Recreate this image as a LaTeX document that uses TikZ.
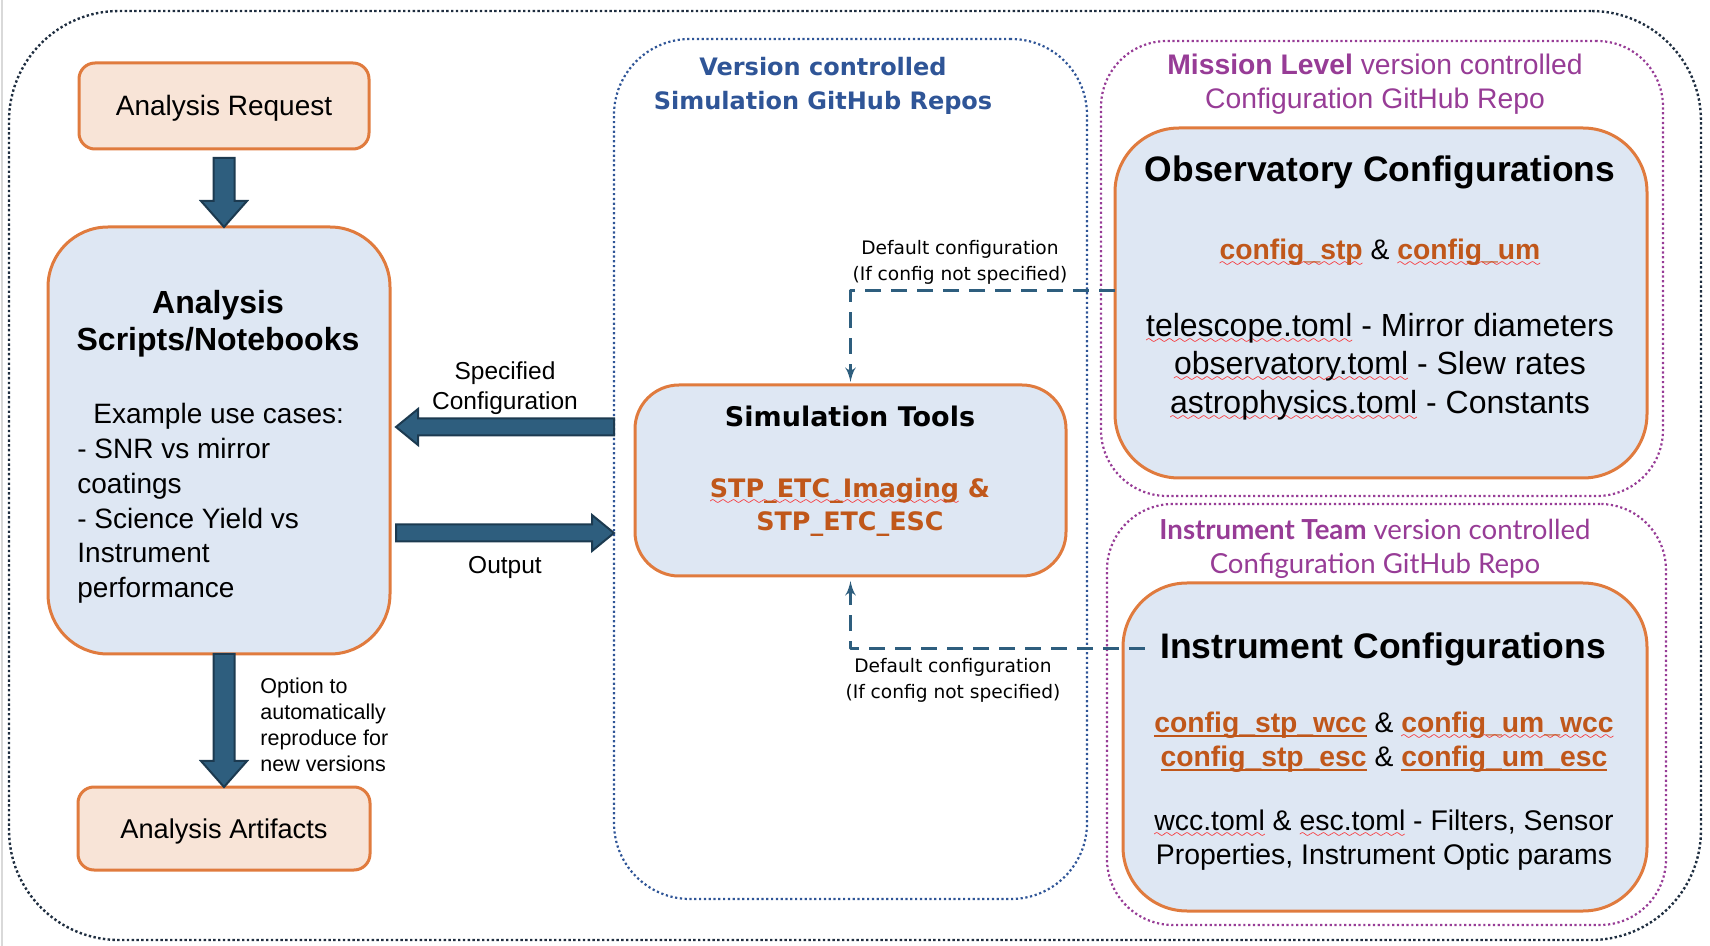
\documentclass[tikz,border=0pt]{standalone}
\usepackage{fontspec}
\setmainfont{Liberation Sans}
\newfontfamily\widefont{DejaVu Sans}
\newfontfamily\teamfont{Lato}
\usetikzlibrary{arrows,calc,shapes}

\definecolor{boxorange}{HTML}{E07B3E}
\definecolor{peach}{HTML}{F8E4D7}
\definecolor{paleblue}{HTML}{DEE7F3}
\definecolor{arrowfill}{HTML}{2E5E7E}
\definecolor{arrowline}{HTML}{1C3A50}
\definecolor{dashblue}{HTML}{2E5E7E}
\definecolor{linkorange}{HTML}{C0571A}
\definecolor{repopurple}{HTML}{973C96}
\definecolor{repoblue}{HTML}{2F5597}
\definecolor{framenavy}{HTML}{1E2D3F}

\font\sixly=lasy6
\newcommand{\redwave}[1]{\setbox0\hbox{#1}\rlap{\textcolor{red}{\lower3.5pt\hbox to\wd0{\xleaders\hbox{\sixly\char58}\hfil}}}\box0\relax}
\newcommand{\solidline}[1]{\setbox0\hbox{#1}\rlap{\vrule width\wd0 height -1.6pt depth 2.6pt}\box0\relax}
\newcommand{\fsize}[2]{\fontsize{#1}{#2}\selectfont}

\tikzset{
  box/.style={draw=boxorange, line width=1.5pt, inner sep=0pt, outer sep=0pt},
  peachbox/.style={box, fill=peach, rounded corners=8pt, text height=12pt, text depth=2pt},
  bluebox/.style={box, fill=paleblue},
  repo/.style={inner sep=0pt, outer sep=0pt, line width=1.1pt, dash pattern=on 1.1pt off 1.3pt},
  blockarrow/.style={fill=arrowfill, draw=arrowline, line width=1pt, line join=miter},
  defline/.style={draw=dashblue, line width=1.5pt, dash pattern=on 8pt off 5pt},
  txt/.style={inner sep=0pt, align=center},
}

\begin{document}
\begin{tikzpicture}[x=0.5pt,y=-0.5pt,>=latex',line join=bevel]
\useasboundingbox (0,0) rectangle (1710,946);
\draw[black!15, line width=1pt] (2,0) -- (2,946);
%%
  % Node: frame
  \node[repo, draw=framenavy, line width=1.2pt, dash pattern=on 1.2pt off 1.2pt, rounded corners=55pt,
        minimum width=846pt, minimum height=464.5pt] (frame) at (855,475.5) {};
  % Cluster: simulation repos
  \node[repo, draw=repoblue, rounded corners=38pt, minimum width=236.5pt, minimum height=430pt] (simrepo) at (850.5,469) {};
  \node[txt, text=repoblue, font={\widefont\bfseries\fsize{12pt}{17pt}}] (simrepotitle) at (823,86)
    {Version controlled\\Simulation GitHub Repos};
  % Cluster: mission level repo
  \node[repo, draw=repopurple, rounded corners=33pt, minimum width=281pt, minimum height=227.5pt] (missionrepo) at (1382,268.5) {};
  \node[txt, text=repopurple, font=\fsize{14.15pt}{17pt}] (missiontitle) at (1375,84.5)
    {\textbf{Mission Level} version controlled\\Configuration GitHub Repo};
  % Cluster: instrument team repo
  \node[repo, draw=repopurple, rounded corners=33pt, minimum width=279.5pt, minimum height=210.5pt] (instrepo) at (1386.5,714.5) {};
  \node[txt, text=repopurple, font={\teamfont\fsize{13.8pt}{17pt}}] (teamtitle) at (1375,548.5)
    {\textbf{Instrument Team} version controlled\\Configuration GitHub Repo};

  % Node: request
  \node[peachbox, minimum width=145pt, minimum height=43pt, font=\fsize{14pt}{17pt}] (request) at (224,106)
    {Analysis Request};
  % Node: scripts
  \node[bluebox, rounded corners=30pt, minimum width=171pt, minimum height=213.5pt] (scripts) at (219,440.5) {};
  \node[txt, font={\bfseries\fsize{16pt}{18.5pt}}] (scriptstitle) at (218,324)
    {Analysis\\Scripts/Notebooks};
  \node[txt, align=left, anchor=west, font=\fsize{14pt}{17.4pt}] (usecases) at (77,503.5)
    {\hspace*{8pt}Example use cases:\\- SNR vs mirror\\coatings\\- Science Yield vs\\Instrument\\performance};
  % Node: artifacts
  \node[peachbox, minimum width=146pt, minimum height=41.5pt, font=\fsize{13.6pt}{17pt}] (artifacts) at (224,828.5)
    {Analysis Artifacts};

  % Node: simtools
  \node[bluebox, rounded corners=22pt, minimum width=215.5pt, minimum height=95.5pt] (simtools) at (850.5,480.5) {};
  \node[txt, font={\widefont\bfseries\fsize{13.5pt}{16pt}}] (simtitle) at (850,416) {Simulation Tools};
  \node[txt, text=linkorange, font={\widefont\bfseries\fsize{12.7pt}{16.5pt}}] (simlinks) at (850,507.5)
    {\redwave{STP\_ETC\_Imaging} \&\\STP\_ETC\_ESC};

  % Node: obscfg
  \node[bluebox, rounded corners=32pt, minimum width=266pt, minimum height=175pt] (obscfg) at (1381,303) {};
  \node[txt, font={\bfseries\fsize{17.7pt}{20pt}}] (obstitle) at (1380,172) {Observatory Configurations};
  \node[txt, font=\fsize{14.15pt}{17pt}] (obslinks) at (1380,253)
    {\textcolor{linkorange}{\textbf{\redwave{config\_stp}}} \& \textcolor{linkorange}{\textbf{\redwave{config\_um}}}};
  \node[txt, font=\fsize{16pt}{19.25pt}] (obsfiles) at (1380,366.5)
    {\redwave{telescope.toml} - Mirror diameters\\\redwave{observatory.toml} - Slew rates\\\redwave{astrophysics.toml} - Constants};

  % Node: instcfg
  \node[bluebox, rounded corners=32pt, minimum width=262pt, minimum height=164pt] (instcfg) at (1385,747) {};
  \node[txt, inner xsep=7.5pt, font={\bfseries\fsize{17.75pt}{20pt}}] (insttitle) at (1383,649) {Instrument Configurations};
  \node[txt, font=\fsize{14.15pt}{17pt}] (instlinks) at (1384,742)
    {\textcolor{linkorange}{\textbf{\solidline{config\_stp\_wcc}}} \& \textcolor{linkorange}{\textbf{\redwave{config\_um\_wcc}}}\\
     \textcolor{linkorange}{\textbf{\solidline{config\_stp\_esc}}} \& \textcolor{linkorange}{\textbf{\solidline{config\_um\_esc}}}};
  \node[txt, font=\fsize{14.2pt}{17pt}] (instfiles) at (1384,840)
    {\redwave{wcc.toml} \& \redwave{esc.toml} - Filters, Sensor\\Properties, Instrument Optic params};

  % Edge: request -> scripts
  \coordinate (tipA) at (request.south |- scripts.north);
  \draw[blockarrow] ($(request.south)+(-10.5,9)$) -- ($(tipA)+(-10.5,-26)$) -- ($(tipA)+(-23,-26)$) -- (tipA)
    -- ($(tipA)+(23,-26)$) -- ($(tipA)+(10.5,-26)$) -- ($(request.south)+(10.5,9)$) -- cycle;
  % Edge: scripts -> artifacts
  \coordinate (tailB) at (artifacts.north |- scripts.south);
  \draw[blockarrow] ($(tailB)+(-10.5,0)$) -- ($(artifacts.north)+(-10.5,-26)$) -- ($(artifacts.north)+(-23,-26)$) -- (artifacts.north)
    -- ($(artifacts.north)+(23,-26)$) -- ($(artifacts.north)+(10.5,-26)$) -- ($(tailB)+(10.5,0)$) -- cycle;
  \node[txt, align=left, anchor=west, font=\fsize{10.75pt}{13pt}] (optionlabel) at (260,725)
    {Option to\\automatically\\reproduce for\\new versions};
  % Edge: simrepo -> scripts
  \coordinate (tipC) at ($(scripts.east)+(6,-13.5)$);
  \coordinate (tailC) at (simrepo.west |- tipC);
  \draw[blockarrow] ($(tailC)+(0,-8.5)$) -- ($(tipC)+(22,-8.5)$) -- ($(tipC)+(22,-18)$) -- (tipC)
    -- ($(tipC)+(22,18)$) -- ($(tipC)+(22,8.5)$) -- ($(tailC)+(0,8.5)$) -- cycle;
  \node[txt, font=\fsize{12.25pt}{14.75pt}] (speclabel) at (505,388) {Specified\\Configuration};
  % Edge: scripts -> simrepo
  \coordinate (tailD) at ($(scripts.east)+(6,92.5)$);
  \coordinate (tipD) at (simrepo.west |- tailD);
  \draw[blockarrow] ($(tailD)+(0,-8.5)$) -- ($(tipD)+(-22,-8.5)$) -- ($(tipD)+(-22,-18)$) -- (tipD)
    -- ($(tipD)+(-22,18)$) -- ($(tipD)+(-22,8.5)$) -- ($(tailD)+(0,8.5)$) -- cycle;
  \node[txt, font=\fsize{12.25pt}{14.75pt}] (outlabel) at (505,567) {Output};

  % Edge: obscfg -> simtools
  \coordinate (obsport) at ($(obscfg.west)+(0,-12)$);
  \draw[defline,->,shorten >=1.5pt] (obsport) -| (simtools.north);
  \node[txt, font={\widefont\fsize{9.3pt}{13pt}}] (deflabelA) at (960,262.5) {Default configuration\\(If config not specified)};
  % Edge: insttitle -> simtools
  \draw[defline,->,shorten >=2.5pt] (insttitle.west) -| (simtools.south);
  \node[txt, font={\widefont\fsize{9.3pt}{13pt}}] (deflabelB) at (953,680) {Default configuration\\(If config not specified)};
%
\end{tikzpicture}
\end{document}
